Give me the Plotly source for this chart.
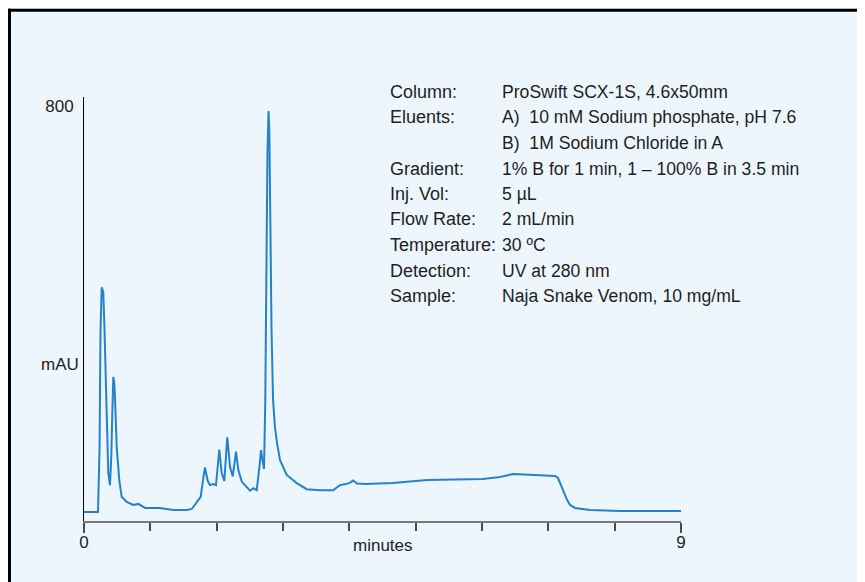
import plotly.graph_objects as go

# ---------------- data ----------------
time_min = [0.000, 0.211, 0.234, 0.249, 0.267, 0.279, 0.291, 0.309, 0.332, 0.351,
            0.366, 0.392, 0.412, 0.427, 0.442, 0.455, 0.467, 0.493, 0.532, 0.568,
            0.644, 0.743, 0.819, 0.920, 1.146, 1.346, 1.548, 1.624, 1.673, 1.759,
            1.799, 1.824, 1.844, 1.865, 1.900, 1.949, 1.990, 2.016, 2.040, 2.058,
            2.076, 2.115, 2.136, 2.160, 2.181, 2.201, 2.242, 2.266, 2.292, 2.311,
            2.326, 2.378, 2.453, 2.503, 2.552, 2.604, 2.643, 2.669, 2.691, 2.714,
            2.733, 2.751, 2.766, 2.782, 2.794, 2.809, 2.827, 2.850, 2.880, 2.910,
            2.955, 3.056, 3.207, 3.357, 3.558, 3.754, 3.859, 3.950, 4.010, 4.055,
            4.116, 4.236, 4.659, 5.171, 6.015, 6.272, 6.468, 6.799, 7.101, 7.146,
            7.191, 7.236, 7.282, 7.327, 7.402, 7.628, 8.081, 9.000]
absorbance_mau = [0, 0, 122, 359, 443, 437, 433, 359, 260, 142,
                  77, 53, 112, 195, 266, 256, 227, 128, 63, 30,
                  20, 14, 16, 8, 8, 4, 4, 6, 14, 30,
                  67, 88, 75, 61, 53, 55, 53, 97, 123, 99,
                  77, 61, 102, 147, 118, 89, 70, 97, 119, 99,
                  83, 60, 50, 42, 47, 43, 87, 122, 102, 85,
                  221, 516, 713, 790, 753, 575, 359, 221, 166, 136,
                  102, 73, 57, 45, 43, 43, 53, 55, 58, 62,
                  56, 55, 57, 63, 65, 69, 75, 73, 71, 67,
                  53, 37, 24, 14, 8, 4, 2, 2]

x_tick_vals = [0, 9]
x_tick_text = ["0", "9"]
x_minor_tick_vals = [1, 2, 3, 4, 5, 6, 7, 8]
y_tick_vals = [800]
y_tick_text = ["800"]
x_title = "minutes"
y_title = "mAU"

info_labels = ["Column:", "Eluents:", "", "Gradient:", "Inj. Vol:",
               "Flow Rate:", "Temperature:", "Detection:", "Sample:"]
info_values = ["ProSwift SCX-1S, 4.6x50mm",
               "A)\u00a0 10 mM Sodium phosphate, pH 7.6",
               "B)\u00a0 1M Sodium Chloride in A",
               "1% B for 1 min, 1 \u2013 100% B in 3.5 min",
               "5 \u00b5L",
               "2 mL/min",
               "30 \u00baC",
               "UV at 280 nm",
               "Naja Snake Venom, 10 mg/mL"]

# ---------------- layout geometry ----------------
# coordinates below are page pixels; the page body adds an 8 px offset
OFF = 8
W, H = 865, 582
PL, PR, PT, PB = 84 - OFF, 681 - OFF, 97 - OFF, 521 - OFF   # plot area edges (figure px)
X_RANGE = [0, 9]
Y_RANGE = [-17.7, 817.7]

FONT = "Liberation Sans, Arial, Helvetica, sans-serif"
TXT = "#1e1e1e"
BG = "#EEF6FD"
LINE = "#2382CC"


def px_x(page_px):
    return (page_px - OFF - PL) / (PR - PL)


def px_y(page_py):
    return (PB - (page_py - OFF)) / (PB - PT)


fig = go.Figure()
fig.add_trace(go.Scatter(x=time_min, y=absorbance_mau, mode="lines",
                         line=dict(color=LINE, width=2), hoverinfo="skip",
                         showlegend=False))

annotations = []
row_y0, row_dy = 92, 25.5
for i, (lab, val) in enumerate(zip(info_labels, info_values)):
    yy = px_y(row_y0 + i * row_dy)
    if lab:
        annotations.append(dict(text=lab, x=px_x(387.5), y=yy, xref="paper", yref="paper",
                                xanchor="left", yanchor="middle", showarrow=False,
                                font=dict(family=FONT, size=18, color=TXT)))
    annotations.append(dict(text=val, x=px_x(499.5), y=yy, xref="paper", yref="paper",
                            xanchor="left", yanchor="middle", showarrow=False,
                            font=dict(family=FONT, size=17.6, color=TXT)))

annotations.append(dict(text=x_title, x=0.5, y=px_y(545.5), xref="paper", yref="paper",
                        xanchor="center", yanchor="middle", showarrow=False,
                        font=dict(family=FONT, size=17, color=TXT)))
annotations.append(dict(text=y_title, x=px_x(81), y=px_y(364), xref="paper", yref="paper",
                        xanchor="right", yanchor="middle", showarrow=False,
                        font=dict(family=FONT, size=17, color=TXT)))

shapes = [
    # black frame along the top and left edges of the panel
    dict(type="line", xref="paper", yref="paper", layer="above",
         x0=px_x(8), x1=px_x(900), y0=px_y(10.3), y1=px_y(10.3),
         line=dict(color="black", width=3)),
    dict(type="line", xref="paper", yref="paper", layer="above",
         x0=px_x(9.5), x1=px_x(9.5), y0=px_y(8.8), y1=px_y(600),
         line=dict(color="black", width=3)),
]

fig.update_layout(
    width=W, height=H, autosize=False,
    margin=dict(l=PL, r=W - PR, t=PT, b=H - PB, pad=0),
    paper_bgcolor=BG, plot_bgcolor="rgba(0,0,0,0)",
    font=dict(family=FONT, size=17, color=TXT),
    showlegend=False,
    annotations=annotations,
    shapes=shapes,
    xaxis=dict(range=X_RANGE, showgrid=False, zeroline=False,
               showline=True, linecolor="#7a7a7a", linewidth=2,
               tickmode="array", tickvals=x_tick_vals, ticktext=x_tick_text,
               ticks="outside", ticklen=10, tickwidth=2, tickcolor="#4a4a4a",
               ticklabelstandoff=-5,
               tickfont=dict(family=FONT, size=17, color=TXT),
               minor=dict(tickmode="array", tickvals=x_minor_tick_vals,
                          ticks="outside", ticklen=8, tickwidth=2, tickcolor="#4a4a4a",
                          showgrid=False),
               fixedrange=True),
    yaxis=dict(range=Y_RANGE, showgrid=False, zeroline=False,
               showline=True, linecolor="black", linewidth=1,
               tickmode="array", tickvals=y_tick_vals, ticktext=y_tick_text,
               ticks="", ticklabelstandoff=6,
               tickfont=dict(family=FONT, size=17, color=TXT),
               fixedrange=True),
)

fig.write_html("out.html")
